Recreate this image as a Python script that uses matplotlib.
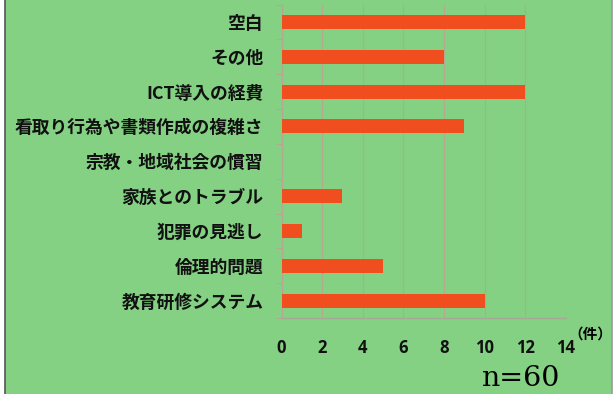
import matplotlib.pyplot as plt
from matplotlib.patches import Rectangle
from matplotlib.lines import Line2D

plt.rcParams['font.family'] = ['Noto Sans CJK JP', 'DejaVu Sans']

# 課題の項目（上から順）と件数
categories = ["空白", "その他", "ICT導入の経費", "看取り行為や書類作成の複雑さ",
              "宗教・地域社会の慣習", "家族とのトラブル", "犯罪の見逃し",
              "倫理的問題", "教育研修システム"]
counts = [12, 8, 12, 9, 0, 3, 1, 5, 10]
xticks = [0, 2, 4, 6, 8, 10, 12, 14]

bg = "#84d184"
bar_color = "#f04e1f"
grid_color = "#b4a890"

fig = plt.figure(figsize=(6.15, 3.94), dpi=100)
fig.patch.set_facecolor("white")

# 背景パネルと左右の枠線
fig.patches.append(Rectangle((5 / 615, 0), 607 / 615, 1, transform=fig.transFigure,
                             facecolor=bg, edgecolor="none", zorder=-5))
fig.lines.append(Line2D([5 / 615, 5 / 615], [0, 1], transform=fig.transFigure,
                        color="#555555", lw=1.2, zorder=-4))
fig.lines.append(Line2D([612 / 615, 612 / 615], [0, 1], transform=fig.transFigure,
                        color="#9a9a9a", lw=1.2, zorder=-4))

ax = fig.add_axes([281.5 / 615, 76 / 394, 284.5 / 615, 313.5 / 394])
ax.set_facecolor(bg)

y = list(range(len(categories)))
ax.barh(y, counts, height=0.4, color=bar_color, zorder=3)
ax.set_ylim(len(categories) - 0.5, -0.5)
ax.set_xlim(0, 14)

ax.set_xticks(xticks)
ax.set_xticklabels([str(v) for v in xticks], fontsize=12, fontweight="bold",
                   family=["Open Sans", "DejaVu Sans"])
ax.set_yticks(y)
ax.set_yticklabels(categories, fontsize=12.8, fontweight="bold")
ax.set_yticks([i + 0.5 for i in range(-1, len(categories))], minor=True)

ax.tick_params(axis="x", length=0, pad=15, colors="#111111")
ax.tick_params(axis="y", which="major", length=0, pad=13, colors="#111111")
ax.tick_params(axis="y", which="minor", length=4, color=grid_color, width=0.8)

ax.grid(axis="x", color=grid_color, lw=0.8, zorder=1)
for side in ["top", "right"]:
    ax.spines[side].set_visible(False)
ax.spines["left"].set_color(grid_color)
ax.spines["left"].set_linewidth(0.8)
ax.spines["bottom"].set_color("#a8a898")
ax.spines["bottom"].set_linewidth(1.0)

# 単位と回答数
fig.text(568 / 615, 1 - 334 / 394, "（件）", fontsize=10.5, fontweight="bold",
         ha="left", va="center")
fig.text(481 / 615, 1 - 386 / 394, "n=60", fontsize=20.5,
         family=["DejaVu Serif"], ha="left", va="baseline")

fig.savefig("out.png", dpi=100, facecolor=fig.get_facecolor())
